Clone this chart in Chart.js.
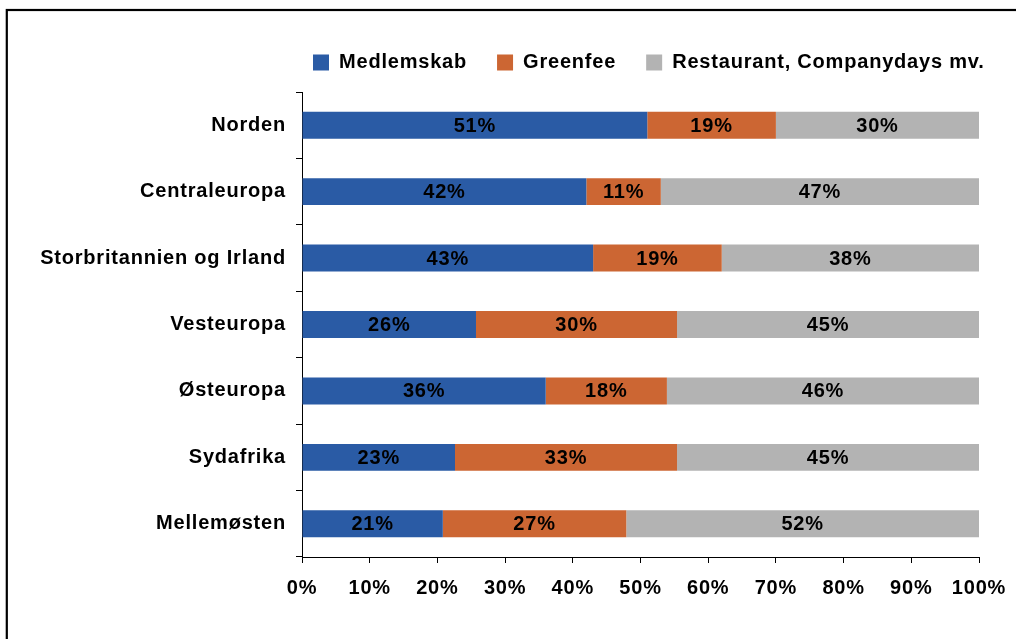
<!DOCTYPE html>
<html>
<head>
<meta charset="utf-8">
<title>Omsætningsfordeling</title>
<script src="https://cdn.jsdelivr.net/npm/chart.js@4/dist/chart.umd.min.js"></script>
<style>
    html, body { margin: 0; padding: 0; background: #fff; }
    #wrap { width: 1016px; height: 639px; }
</style>
</head>
<body>
<div id="wrap"><canvas id="revenueChart" width="1016" height="639"></canvas></div>
<script>
// Regions and revenue split (% of total)
const regions = ['Norden', 'Centraleuropa', 'Storbritannien og Irland', 'Vesteuropa', 'Østeuropa', 'Sydafrika', 'Mellemøsten'];
const medlemskab = [51, 42, 43, 25.7, 36.0, 22.6, 20.8];
const greenfee = [19, 11, 19, 29.7, 17.9, 32.8, 27.1];
const restaurant = [30, 47, 38, 44.6, 46.1, 44.6, 52.1];
const xTicks = [0, 10, 20, 30, 40, 50, 60, 70, 80, 90, 100];

const seriesNames = ['Medlemskab', 'Greenfee', 'Restaurant, Companydays mv.'];
const seriesColors = ['#2A5BA5', '#CC6633', '#B3B3B3'];

const FONT = { family: '"Liberation Sans", Arial, Helvetica, sans-serif', size: 20, weight: 'bold' };
const SPACING = '0.8px';
const LEGEND_SPACING = '0.8px';

// canvas letter spacing, the original text is a bit spread out
const spacingPlugin = {
    id: 'spacing',
    beforeUpdate(chart) { chart.ctx.letterSpacing = SPACING; },
    beforeDraw(chart) { chart.ctx.letterSpacing = SPACING; },
    afterInit(chart) {
        const lg = chart.legend;
        if (!lg) return;
        ['fit', 'draw'].forEach(name => {
            const orig = lg[name].bind(lg);
            lg[name] = function (...args) {
                const c = chart.ctx;
                const prev = c.letterSpacing;
                c.letterSpacing = LEGEND_SPACING;
                const r = orig(...args);
                c.letterSpacing = prev;
                return r;
            };
        });
    }
};

// put the legend where the original has it
const legendPlacer = {
    id: 'legendPlacer',
    afterLayout(chart) {
        const lg = chart.legend;
        if (!lg) return;
        const w = lg.width;
        lg.left = 283;
        lg.right = 283 + w;
        lg.top -= 9.5;
        lg.bottom -= 9.5;
    }
};

// percentage labels in the middle of each segment
const segmentLabels = {
    id: 'segmentLabels',
    afterDatasetsDraw(chart) {
        const ctx = chart.ctx;
        ctx.save();
        ctx.font = 'bold 20px "Liberation Sans", Arial, sans-serif';
        ctx.fillStyle = '#000';
        ctx.textAlign = 'center';
        ctx.textBaseline = 'middle';
        chart.data.datasets.forEach((ds, i) => {
            const meta = chart.getDatasetMeta(i);
            meta.data.forEach((bar, j) => {
                const x = (bar.x + bar.base) / 2;
                ctx.fillText(Math.round(ds.data[j]) + '%', x, bar.y + 1);
            });
        });
        ctx.restore();
    }
};

// black frame round the chart (right and bottom edges are cut off)
const framePlugin = {
    id: 'frame',
    afterDraw(chart) {
        const ctx = chart.ctx;
        ctx.save();
        ctx.strokeStyle = '#000';
        ctx.lineWidth = 2.2;
        ctx.strokeRect(6.8, 10, 1200, 800);
        ctx.restore();
    }
};

const values = [medlemskab, greenfee, restaurant];

new Chart(document.getElementById('revenueChart'), {
    type: 'bar',
    data: {
        labels: regions,
        datasets: values.map((v, i) => ({
            label: seriesNames[i],
            data: v,
            backgroundColor: seriesColors[i],
            borderWidth: 0,
            barPercentage: 0.405,
            categoryPercentage: 1
        }))
    },
    options: {
        indexAxis: 'y',
        responsive: false,
        animation: false,
        events: [],
        layout: { padding: { top: 32, right: 37, left: 0, bottom: 0 } },
        plugins: {
            legend: {
                position: 'top',
                align: 'start',
                labels: {
                    boxWidth: 16,
                    boxHeight: 16,
                    padding: 30,
                    color: '#000',
                    font: FONT
                }
            },
            tooltip: { enabled: false }
        },
        scales: {
            x: {
                stacked: true,
                min: 0,
                max: 100,
                afterBuildTicks(scale) {
                    scale.ticks = xTicks.map(v => ({ value: v }));
                },
                afterFit(scale) {
                    scale.height = 82;
                    scale.paddingLeft = 0;
                    scale.paddingRight = 0;
                },
                grid: { drawOnChartArea: false, tickLength: 6, color: '#000' },
                border: { color: '#000', width: 1 },
                ticks: {
                    color: '#000',
                    font: FONT,
                    padding: 13,
                    maxRotation: 0,
                    callback: v => v + '%'
                }
            },
            y: {
                stacked: true,
                afterFit(scale) { scale.width = 302; },
                grid: { drawOnChartArea: false, tickLength: 6, color: '#000' },
                border: { color: '#000', width: 1 },
                ticks: {
                    color: '#000',
                    font: FONT,
                    padding: 10
                }
            }
        }
    },
    plugins: [spacingPlugin, legendPlacer, segmentLabels, framePlugin]
});
</script>
</body>
</html>
